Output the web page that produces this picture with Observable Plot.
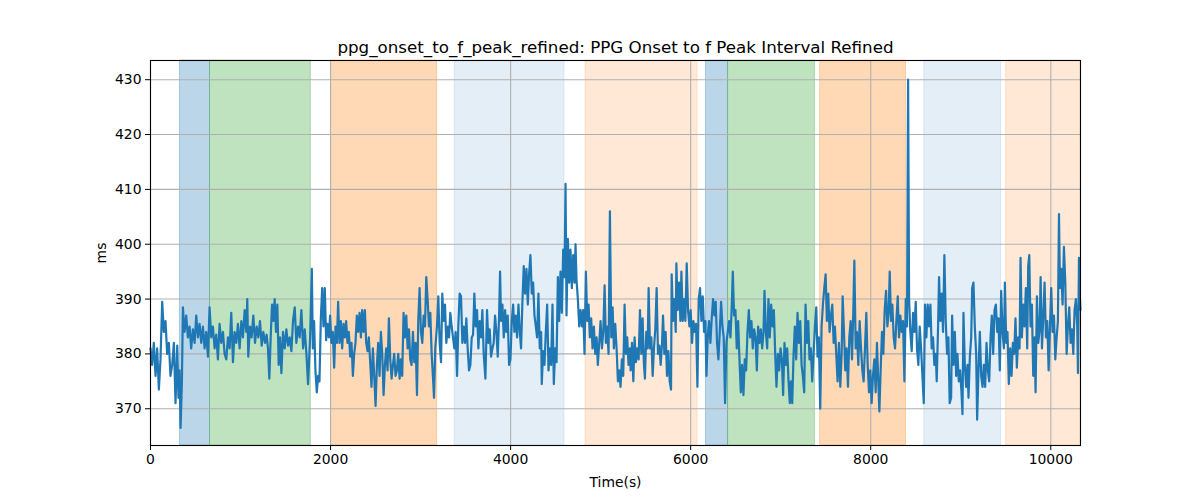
<!DOCTYPE html>
<html>
<head>
<meta charset="utf-8">
<script src="https://cdn.jsdelivr.net/npm/d3@7"></script>
<script src="https://cdn.jsdelivr.net/npm/@observablehq/plot@0.6"></script>
<style>
  html, body { margin: 0; padding: 0; background: white; }
  #chart { width: 1200px; height: 500px; }
</style>
</head>
<body>
<div id="chart"></div>
<script>
const chartTitle = "ppg_onset_to_f_peak_refined: PPG Onset to f Peak Interval Refined";
const xLabel = "Time(s)";
const yLabel = "ms";
const xTicks = [0, 2000, 4000, 6000, 8000, 10000];
const yTicks = [370, 380, 390, 400, 410, 420, 430];

// shaded periods
const bandStart = [327, 661, 2004, 3378, 4832, 6170, 6415, 7438, 8595, 9504];
const bandEnd   = [661, 1781, 3184, 4598, 6077, 6415, 7380, 8392, 9448, 10330];
const bandColor = ["#1f77b4", "#2ca02c", "#ff7f0e", "#1f77b4", "#ff7f0e", "#1f77b4", "#2ca02c", "#ff7f0e", "#1f77b4", "#ff7f0e"];
const bandAlpha = [0.3, 0.3, 0.3, 0.12, 0.17, 0.3, 0.3, 0.3, 0.12, 0.17];

// [time (s), interval (ms)]
const series = [
[0,381],[18,378],[37,382],[56,376],[74,381],[93,373.5],[111,379],[130,389.5],[148,384],[167,386],[185,380],[204,382],[222,376],[241,378],[260,382],[278,371],[297,381.5],[311,372],[323,377],[334,366.5],[349,375],[360,388.5],[378,384],[397,387],[415,383],[434,385],[452,381],[471,384.5],[490,382],[508,387],[527,383],[545,385.5],[564,382],[582,385],[601,381],[619,384],[638,379.5],[656,388.5],[675,383],[693,385],[712,381],[730,383.5],[749,379],[767,385.5],[786,382],[805,384],[823,380],[842,379],[860,383],[879,381],[897,387.5],[916,378.5],[934,384],[953,382],[971,385.5],[990,381],[1009,386],[1027,383],[1046,388],[1064,384],[1075,390],[1086,379.5],[1105,385],[1123,383],[1142,387],[1161,382],[1179,385],[1198,383],[1216,386],[1235,381.5],[1253,384],[1272,382],[1290,383.5],[1305,381],[1320,375.5],[1335,383],[1350,389],[1365,386],[1379,390],[1394,384],[1409,389],[1424,378],[1439,383],[1454,376.5],[1472,384],[1491,381],[1509,384.5],[1528,381.5],[1546,383],[1565,380.5],[1583,386],[1602,388.5],[1620,382],[1639,385],[1657,383],[1676,388],[1695,381],[1713,384.5],[1732,380],[1750,374.5],[1769,381.5],
[1773,383],[1792,395.5],[1803,381],[1817,386],[1832,377],[1847,373],[1862,376],[1877,375],[1892,386.5],[1907,392],[1921,385],[1936,392],[1951,382.5],[1966,385.5],[1981,383],[1995,387],[2010,382],[2025,384],[2040,377.5],[2055,385],[2070,382],[2084,389.5],[2099,382],[2114,386],[2129,381],[2144,385.5],[2159,383],[2173,386],[2188,382],[2203,384],[2218,379.5],[2233,382],[2248,376],[2262,380],[2277,382],[2292,387],[2307,384],[2322,387.5],[2337,383],[2351,388],[2366,384],[2381,388],[2396,382],[2411,380.5],[2425,383],[2440,378.5],[2455,374],[2470,381],[2485,376],[2500,370.5],[2515,378],[2529,382],[2544,376],[2559,384],[2574,380],[2589,372.5],[2604,378],[2618,381],[2633,377],[2648,386.5],[2663,379],[2678,375.5],[2693,378],[2707,380],[2722,376],[2737,377],[2752,380],[2767,375.5],[2781,379],[2796,376],[2811,387.5],[2826,383],[2841,387],[2856,381],[2871,384.5],[2885,379],[2900,378],[2915,384],[2930,378.5],[2945,382],[2960,372.5],[2974,386],[2989,392],[3004,384],[3019,382],[3034,387],[3049,385],[3063,394],[3078,390],[3093,385],[3108,387.5],[3123,380],[3137,376],[3149,372],[3163,381],[3182,385],[3197,390.5],[3212,382],[3227,378.5],[3241,391],[3256,386],[3271,389],[3286,382],[3301,385],[3316,383],[3330,387.5],[3345,385],[3360,383],[3375,381],[3390,384],[3405,376],[3419,385],[3434,391],[3449,390.5],[3464,382],[3479,385],[3494,382],[3508,386.5],[3523,381],[3538,377],
[3553,378],[3568,383],[3583,383.5],[3597,391],[3612,385],[3627,388],[3642,381],[3657,386],[3672,383],[3686,388],[3701,380],[3720,375.5],[3738,388],[3753,382],[3768,384.5],[3783,379.5],[3798,381],[3812,382],[3827,387],[3842,384],[3857,379.5],[3872,387],[3883,395],[3894,386],[3909,389],[3924,383],[3939,388],[3953,384],[3968,387],[3983,378],[3998,379],[4013,386],[4028,389],[4042,384],[4057,387],[4072,383],[4087,389],[4102,384],[4116,381],[4131,389.5],[4139,393],[4146,396],[4161,391],[4176,395.5],[4191,389],[4205,394.5],[4220,398],[4235,391],[4250,393],[4265,387],[4280,385],[4294,383],[4309,391],[4324,381],[4339,384],[4346,374.5],[4361,380.5],[4376,378],[4391,384],[4406,389],[4421,377],[4435,381],[4450,378],[4465,389],[4480,374.5],[4495,381],[4510,378.5],[4525,394],[4539,386],[4554,395],[4569,387.5],[4584,399],[4599,394],[4610,411],[4621,387],[4636,401],[4651,393],[4665,399],[4680,392],[4695,398],[4710,393],[4721,400],[4732,393.5],[4747,390],[4762,385],[4777,388],[4792,385],[4806,388],[4821,380],[4836,395],[4851,386],[4866,389],[4880,383],[4895,386.5],[4910,381],[4925,385],[4940,380],[4955,383],[4969,378],[4984,382],[4999,386],[5014,381],[5029,384],[5044,392.5],[5058,382],[5073,385],[5088,380],[5103,406],[5118,383],[5133,388.5],[5147,381],[5162,385.5],[5177,381],[5192,375],[5207,377],[5221,374],[5236,379],[5251,376],[5266,389],[5281,380],[5295,383],[5310,378],[5325,381],
[5333,377],[5348,382],[5363,375],[5377,383],[5392,378.5],[5407,381],[5422,379],[5437,388],[5452,380],[5466,386.5],[5481,378],[5492,375.5],[5507,384],[5522,381],[5533,392],[5548,381],[5563,383],[5578,376],[5592,381],[5607,384.5],[5622,392],[5637,380],[5652,381.5],[5667,378],[5682,382],[5693,387],[5708,380],[5722,384],[5737,376],[5752,380.5],[5767,375],[5782,373.5],[5789,394.5],[5804,386],[5819,390],[5834,384],[5841,396.5],[5856,388],[5871,393],[5886,386],[5897,395],[5912,386],[5926,390],[5941,386],[5956,396.5],[5971,388],[5986,385],[6000,388],[6015,382],[6030,386],[6045,384],[6060,385.5],[6075,374],[6089,390],[6104,392],[6119,386],[6134,390.5],[6149,384],[6164,386],[6175,376],[6189,383],[6204,386],[6219,382],[6234,386.5],[6249,390],[6264,387],[6278,389.5],[6293,382],[6308,379],[6323,384],[6338,389.5],[6353,385],[6367,383],[6382,371],[6397,382],[6412,384],[6427,386],[6442,383],[6457,389],[6468,395],[6482,387],[6497,388],[6512,381],[6527,386],[6542,379],[6557,373],[6571,378],[6586,372.5],[6601,379],[6616,377],[6631,384],[6646,388],[6660,383],[6675,386],[6690,381],[6705,384.5],[6720,383],[6735,377],[6749,385],[6764,382],[6779,384.5],[6794,381],[6809,384],[6820,391.5],[6835,384],[6850,381],[6864,390],[6879,383],[6894,389],[6909,385],[6924,388],[6939,380],[6953,374],[6968,380],[6983,377],[6998,381],[7013,379],[7027,372.5],[7042,382],[7057,378],[7072,381],[7087,375],[7101,371],
[7113,375],[7128,371],[7143,380],[7157,385],[7172,379],[7187,387.5],[7202,382],[7217,386],[7232,378],[7246,376],[7261,373],[7276,389],[7291,382],[7306,386],[7320,379],[7335,381],[7350,375],[7365,380],[7380,385],[7395,388.5],[7409,379.5],[7424,383],[7439,370],[7454,385],[7469,389],[7484,392],[7499,394.5],[7513,386],[7528,391],[7543,384],[7558,387],[7573,389],[7588,382],[7602,385],[7617,380],[7632,375],[7647,382],[7662,374],[7677,380],[7688,390.5],[7703,384],[7717,377],[7732,381],[7747,374],[7762,383],[7777,386],[7792,379],[7807,388],[7818,397],[7833,381],[7847,384],[7862,378],[7877,386],[7892,381],[7907,377],[7921,375],[7936,381],[7951,387.5],[7966,378],[7981,373],[7995,377],[8010,371],[8025,376],[8040,379],[8055,373],[8069,382],[8084,375],[8096,369.5],[8110,377],[8125,384],[8140,380],[8155,388],[8170,391.5],[8185,385],[8200,388],[8211,395],[8225,386],[8240,389],[8255,383],[8270,381],[8285,386],[8300,390.5],[8314,383],[8329,387],[8344,384],[8359,386],[8374,375],[8389,390],[8403,385],[8415,430],[8426,390],[8440,384],[8455,380.5],[8470,387.5],[8485,384],[8500,389.5],[8514,381],[8529,378],[8544,385],[8559,381],[8574,376],[8589,371],[8603,389],[8618,383],[8633,389],[8648,385],[8663,389],[8677,381],[8692,383],[8707,378],[8722,380],[8733,375],[8748,385],[8759,394],[8774,386],[8789,391],[8803,384],[8818,398],[8833,386],[8848,380],[8863,383],[8877,371],
[8893,372],[8904,387],[8919,378],[8934,384],[8949,376],[8963,380],[8978,375],[8993,377],[9008,373],[9019,369],[9030,387.5],[9045,378],[9060,374],[9075,378],[9086,372],[9101,379.5],[9116,383],[9127,392],[9141,393],[9156,385],[9171,380],[9182,368],[9197,377],[9212,384],[9227,376],[9242,374],[9256,378],[9271,374],[9286,382],[9301,377],[9316,375],[9331,383],[9345,387],[9360,380],[9375,388],[9390,389],[9405,384],[9419,386.5],[9434,377],[9449,391.5],[9464,384],[9479,381],[9490,393],[9505,382],[9519,384],[9534,374.5],[9549,381],[9564,376],[9579,382],[9593,380],[9608,386.5],[9623,377.5],[9638,383],[9653,381],[9664,397.5],[9679,383],[9694,389],[9708,385],[9723,392],[9738,381],[9749,396],[9761,398],[9775,385],[9790,389],[9805,376],[9820,383],[9831,373],[9846,390.5],[9861,382],[9876,384.5],[9887,394],[9902,381],[9917,387],[9931,393],[9946,383],[9961,386],[9976,377],[9991,385],[10005,392],[10020,384],[10035,387],[10050,379],[10065,383],[10079,386],[10091,405.5],[10102,392],[10116,395.5],[10131,389],[10146,399.5],[10161,393],[10176,380],[10190,385],[10205,388.5],[10220,382],[10235,384.5],[10250,380],[10264,388],[10279,390],[10294,385],[10302,376.5],[10313,397.5],[10324,390],[10330,388]
];

const bandMarks = bandStart.map((s, i) => Plot.rectX([{s, e: bandEnd[i]}], {
  x1: "s", x2: "e",
  fill: bandColor[i], fillOpacity: bandAlpha[i],
  stroke: bandColor[i], strokeOpacity: bandAlpha[i], strokeWidth: 1
}));

const chart = Plot.plot({
  width: 1200,
  height: 500,
  marginLeft: 150,
  marginRight: 120,
  marginTop: 60,
  marginBottom: 55,
  style: { fontFamily: "DejaVu Sans", fontSize: "13.9px", color: "black", background: "white", overflow: "visible" },
  x: { domain: [0, 10330] },
  y: { domain: [363.3, 433.5] },
  marks: [
    ...bandMarks,
    Plot.gridX(xTicks, { stroke: "#b0b0b0", strokeOpacity: 1, strokeWidth: 1.1 }),
    Plot.gridY(yTicks, { stroke: "#b0b0b0", strokeOpacity: 1, strokeWidth: 1.1 }),
    Plot.line(series, { x: d => d[0], y: d => d[1], stroke: "#1f77b4", strokeWidth: 2.2, strokeLinejoin: "round" }),
    Plot.frame({ stroke: "black", strokeWidth: 1.1 }),
    Plot.axisX(xTicks, { tickSize: 5, tickPadding: 4, tickFormat: d => String(d), label: xLabel, labelArrow: "none", labelAnchor: "center", labelOffset: 41, fontSize: 13.9 }),
    Plot.axisY(yTicks, { tickSize: 5, tickPadding: 4, tickFormat: d => String(d), label: yLabel, labelArrow: "none", labelAnchor: "center", labelOffset: 54, fontSize: 13.9 }),
    Plot.text([chartTitle], { text: d => d, frameAnchor: "top", lineAnchor: "bottom", dy: -8, fontSize: 16.7, fill: "black" })
  ]
});
document.getElementById("chart").appendChild(chart);
</script>
</body>
</html>
